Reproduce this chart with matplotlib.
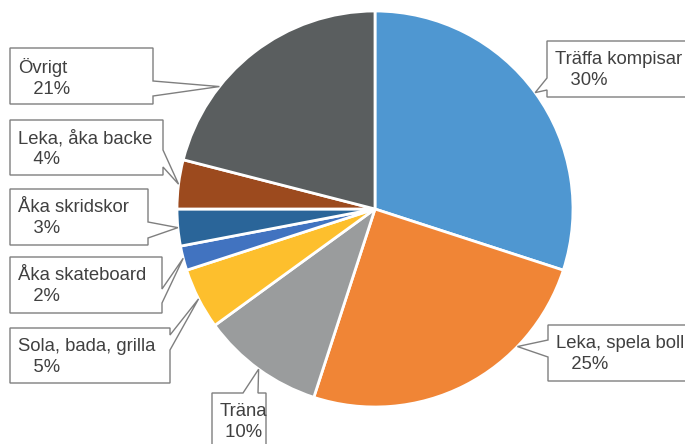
import numpy as np
import matplotlib
matplotlib.use("Agg")
import matplotlib.pyplot as plt
from matplotlib.patches import Polygon

plt.rcParams["font.family"] = ["Liberation Sans", "DejaVu Sans"]

# Data
labels = ["Träffa kompisar", "Leka, spela boll", "Träna", "Sola, bada, grilla",
          "Åka skateboard", "Åka skridskor", "Leka, åka backe", "Övrigt"]
shares = [30, 25, 10, 5, 2, 3, 4, 21]
colors = ["#4F97D1", "#F08536", "#9A9C9D", "#FDBF2D",
          "#4173C0", "#2A6599", "#9C4A1E", "#5A5E5F"]

W, H = 685, 444
CX, CY, R = 375, 209, 198

# callout boxes in pixels (x0, y0, x1, y1), side of notch, notch base a..b,
# tip angle shift, indent of the percent line
boxes = {
    "Träffa kompisar":    ((547, 41, 692, 97), "left", 78, 90, 0, "   "),
    "Leka, spela boll":   ((548, 325, 692, 381), "left", 340, 357, 19, "   "),
    "Träna":              ((212, 393, 266, 450), "top", 243, 258, 0, " "),
    "Sola, bada, grilla": ((10, 328, 170, 383), "right", 335, 350, 0, "   "),
    "Åka skateboard":     ((10, 257, 162, 313), "right", 289, 303, 0, "   "),
    "Åka skridskor":      ((10, 189, 148, 245), "right", 222, 238, 0, "   "),
    "Leka, åka backe":    ((10, 120, 163, 175), "right", 150, 167, 0, "   "),
    "Övrigt":             ((10, 48, 153, 104), "right", 81, 96, 14, "   "),
}


def py(y):
    return H - y


fig = plt.figure(figsize=(W / 100, H / 100), dpi=100)
ax = fig.add_axes([0, 0, 1, 1])

wedges, _ = ax.pie(shares, colors=colors, startangle=90, counterclock=False,
                   center=(CX, py(CY)), radius=R,
                   wedgeprops=dict(edgecolor="white", linewidth=2))

for w, lab, val in zip(wedges, labels, shares):
    (x0, y0, x1, y1), side, a, b, shift, ind = boxes[lab]
    ang = np.deg2rad((w.theta1 + w.theta2) / 2 + shift)
    tx = CX + R * np.cos(ang)
    ty = CY - R * np.sin(ang)
    if side == "left":
        pts = [(x0, y0), (x1, y0), (x1, y1), (x0, y1), (x0, b), (tx, ty), (x0, a)]
    elif side == "right":
        pts = [(x0, y0), (x1, y0), (x1, a), (tx, ty), (x1, b), (x1, y1), (x0, y1)]
    else:
        pts = [(x0, y0), (a, y0), (tx, ty), (b, y0), (x1, y0), (x1, y1), (x0, y1)]
    poly = Polygon([(x, py(y)) for x, y in pts], closed=True, facecolor="white",
                   edgecolor="#7F7F7F", linewidth=1, zorder=3)
    ax.add_patch(poly)
    ax.text(x0 + 8, py(y0 + 10), f"{lab}\n{ind}{val}%", ha="left", va="top",
            fontsize=13.3, color="#404040", linespacing=1.3, zorder=4)

ax.set_xlim(0, W)
ax.set_ylim(0, H)
ax.set_aspect("equal")
ax.axis("off")

fig.savefig("out.png", dpi=100)
